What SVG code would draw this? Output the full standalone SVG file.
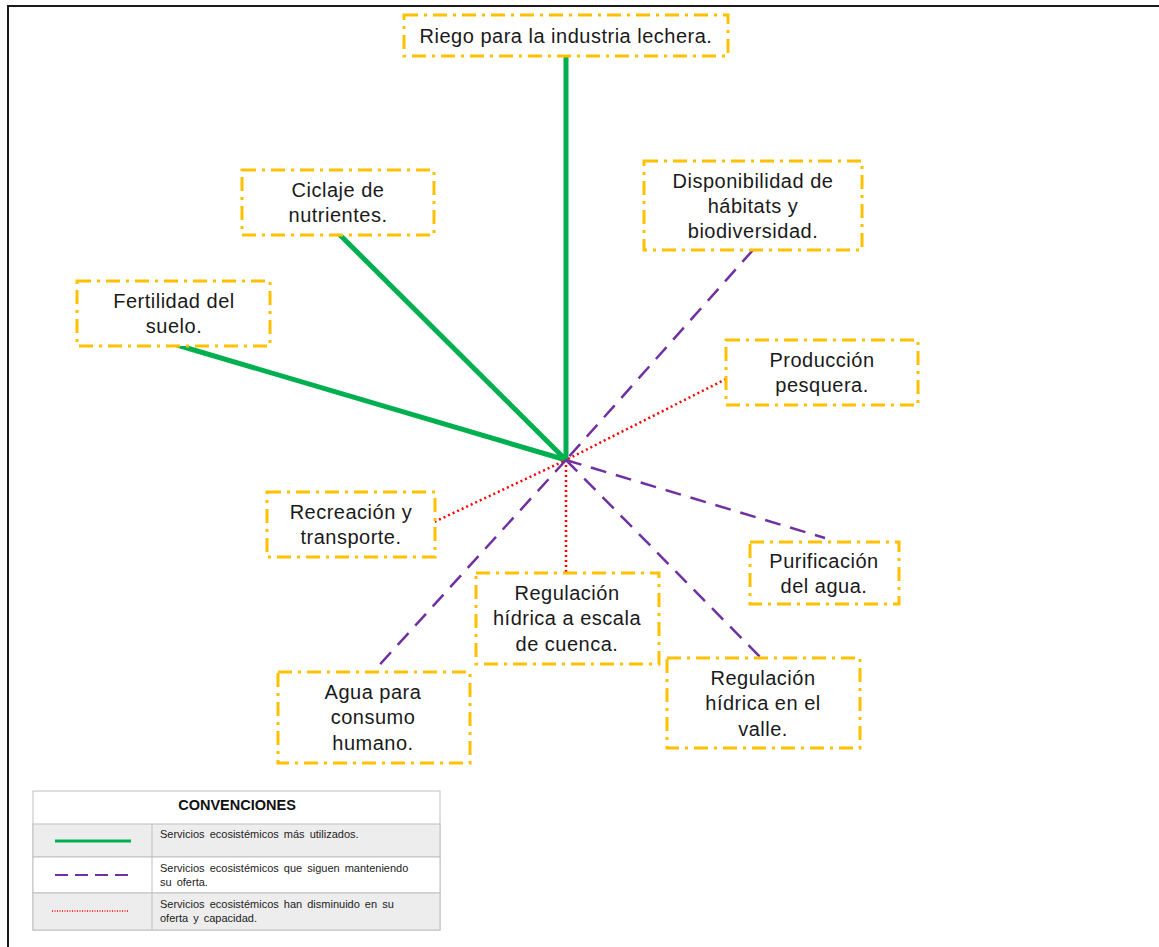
<svg xmlns="http://www.w3.org/2000/svg" width="1159" height="947" viewBox="0 0 1159 947">
<style>
.box{fill:#fff;stroke:#FFC000;stroke-width:3;stroke-dasharray:14 6 3 6}
.t{font-family:"Liberation Sans",Arial,sans-serif;font-size:20px;letter-spacing:0.5px;fill:#1a1a1a;text-anchor:middle}
.g{stroke:#00B050;stroke-width:5;fill:none}
.p{stroke:#7030A0;stroke-width:2.5;stroke-dasharray:16 10;fill:none}
.r{stroke:#FF0000;stroke-width:2.5;stroke-dasharray:2 3;fill:none}
.lt{font-family:"Liberation Sans",Arial,sans-serif;font-size:11px;word-spacing:2px;fill:#222}
</style>
<rect width="1159" height="947" fill="#fff"/>
<path d="M8 947V6H1159" fill="none" stroke="#1a1a1a" stroke-width="2"/>
<g id="connectors">
<line class="g" x1="566" y1="56" x2="566" y2="460"/>
<line class="g" x1="338" y1="233" x2="566" y2="460"/>
<line class="g" x1="177" y1="345" x2="566" y2="460"/>
<line class="p" x1="753" y1="250" x2="566" y2="460"/>
<line class="r" x1="726" y1="379" x2="566" y2="460"/>
<line class="r" x1="430" y1="524" x2="566" y2="460"/>
<line class="r" x1="566" y1="460" x2="566" y2="573"/>
<line class="p" x1="566" y1="460" x2="825" y2="538"/>
<line class="p" x1="566" y1="460" x2="373" y2="672"/>
<line class="p" x1="566" y1="460" x2="763" y2="660"/>
</g>
<g id="riego"><rect class="box" x="404" y="15" width="324" height="41"/><text class="t" x="566" y="43">Riego para la industria lechera.</text></g>
<g id="ciclaje"><rect class="box" x="242" y="170" width="192" height="65"/><text class="t" x="338" y="197">Ciclaje de</text><text class="t" x="338" y="222">nutrientes.</text></g>
<g id="disponibilidad"><rect class="box" x="644" y="161" width="218" height="89"/><text class="t" x="753" y="188">Disponibilidad de</text><text class="t" x="753" y="213">hábitats y</text><text class="t" x="753" y="238">biodiversidad.</text></g>
<g id="fertilidad"><rect class="box" x="77" y="281" width="193" height="65"/><text class="t" x="174" y="308">Fertilidad del</text><text class="t" x="174" y="333">suelo.</text></g>
<g id="produccion"><rect class="box" x="726" y="340" width="192" height="65"/><text class="t" x="822" y="367">Producción</text><text class="t" x="822" y="392">pesquera.</text></g>
<g id="recreacion"><rect class="box" x="267" y="492" width="168" height="65"/><text class="t" x="351" y="519">Recreación y</text><text class="t" x="351" y="544">transporte.</text></g>
<g id="cuenca"><rect class="box" x="476" y="573" width="183" height="91"/><text class="t" x="567" y="600">Regulación</text><text class="t" x="567" y="625">hídrica a escala</text><text class="t" x="567" y="651">de cuenca.</text></g>
<g id="purificacion"><rect class="box" x="750" y="542" width="149" height="62"/><text class="t" x="824" y="568">Purificación</text><text class="t" x="824" y="593">del agua.</text></g>
<g id="agua"><rect class="box" x="278" y="672" width="192" height="91"/><text class="t" x="373" y="699">Agua para</text><text class="t" x="373" y="724">consumo</text><text class="t" x="373" y="750">humano.</text></g>
<g id="valle"><rect class="box" x="667" y="658" width="193" height="90"/><text class="t" x="763" y="685">Regulación</text><text class="t" x="763" y="710">hídrica en el</text><text class="t" x="763" y="736">valle.</text></g>
<g id="legend">
<rect x="33" y="791" width="407" height="139" fill="#fff" stroke="#BFBFBF" stroke-width="1"/>
<rect x="33" y="824" width="407" height="33" fill="#EDEDED" stroke="#BFBFBF"/>
<rect x="33" y="857" width="407" height="36" fill="#fff" stroke="#BFBFBF"/>
<rect x="33" y="893" width="407" height="37" fill="#EDEDED" stroke="#BFBFBF"/>
<line x1="152" y1="824" x2="152" y2="930" stroke="#BFBFBF"/>
<text x="237" y="810" font-family="'Liberation Sans',Arial,sans-serif" font-size="14.5" font-weight="bold" text-anchor="middle" fill="#111">CONVENCIONES</text>
<line x1="55" y1="841" x2="131" y2="841" stroke="#00B050" stroke-width="3"/>
<line x1="55" y1="875" x2="131" y2="875" stroke="#7030A0" stroke-width="2" stroke-dasharray="13 7"/>
<line x1="52" y1="911" x2="129" y2="911" stroke="#FF0000" stroke-width="1.5" stroke-dasharray="1 1.5"/>
<text class="lt" x="160" y="838">Servicios ecosistémicos más utilizados.</text>
<text class="lt" x="160" y="872">Servicios ecosistémicos que siguen manteniendo</text>
<text class="lt" x="160" y="886">su oferta.</text>
<text class="lt" x="160" y="908">Servicios ecosistémicos han disminuido  en su</text>
<text class="lt" x="160" y="922">oferta y capacidad.</text>
</g>
</svg>
